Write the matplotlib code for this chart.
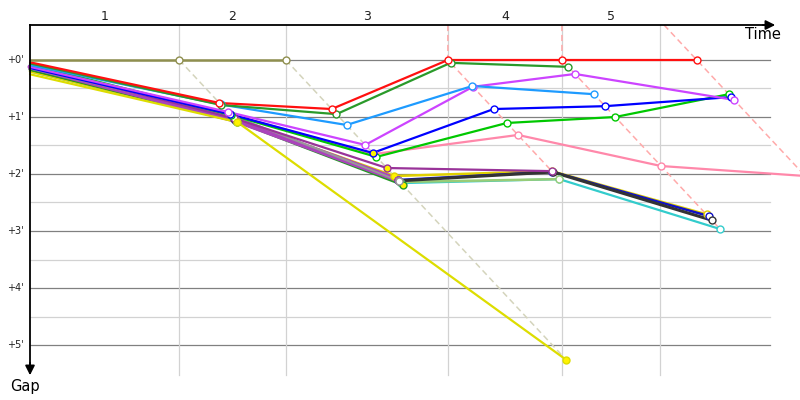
import matplotlib
matplotlib.use("Agg")
import matplotlib.pyplot as plt

# ---------------- data (time in minutes, gap in minutes) ----------------
lap_labels = ["1", "2", "3", "4", "5"]
lap_leader_times = [2.80, 4.80, 7.84, 9.98, 12.51]
lap_grid_times = [2.80, 4.80, 7.84, 9.98, 11.82]
lap_last_gaps = [1.09, 5.26, 2.09, 2.965, 2.035]
gap_ticks = [0, 1, 2, 3, 4, 5]
gap_labels = ["+0'", "+1'", "+2'", "+3'", "+4'", "+5'"]

olive_t = [0, 2.80, 4.80]
olive_g = [0, 0, 0]
red_t = [0, 3.554, 5.66, 7.84, 9.98, 12.51]
red_g = [0.04, 0.754, 0.86, 0, 0, 0]
dkgreen_t = [0, 3.59, 5.75, 7.89, 10.10]
dkgreen_g = [0.06, 0.79, 0.95, 0.05, 0.12]
dodger_t = [0, 3.58, 5.94, 8.30, 10.58]
dodger_g = [0.09, 0.78, 1.14, 0.456, 0.60]
violet_t = [0, 3.71, 6.29, 8.31, 10.225, 13.21]
violet_g = [0.12, 0.91, 1.49, 0.47, 0.245, 0.70]
blue_t = [0, 3.75, 6.43, 8.70, 10.79, 13.16]
blue_g = [0.14, 0.95, 1.63, 0.86, 0.81, 0.65]
lime_t = [0, 3.765, 6.50, 8.945, 10.98, 13.11]
lime_g = [0.08, 0.965, 1.70, 1.105, 1.0, 0.60]
pink_t = [0, 3.75, 6.45, 9.155, 11.84, 14.545]
pink_g = [0.13, 0.95, 1.65, 1.315, 1.86, 2.035]
dkpurple_t = [0, 3.82, 6.695, 9.79]
dkpurple_g = [0.10, 1.02, 1.895, 1.95]
gold_t = [0, 3.86, 6.835, 9.79, 12.70]
gold_g = [0.20, 1.06, 2.035, 1.95, 2.71]
navy_t = [0, 3.835, 6.905, 9.80, 12.74]
navy_g = [0.15, 1.035, 2.105, 1.96, 2.74]
black_t = [0, 3.85, 6.92, 9.805, 12.79]
black_g = [0.16, 1.05, 2.12, 1.965, 2.81]
cyan_t = [0, 3.87, 6.96, 9.93, 12.945]
cyan_g = [0.20, 1.07, 2.16, 2.09, 2.965]
ltgreen_t = [0, 3.87, 6.94, 9.93]
ltgreen_g = [0.18, 1.07, 2.14, 2.09]
gray_t = [0, 3.765, 6.92]
gray_g = [0.15, 0.965, 2.12]
medpurple_t = [0, 3.86, 6.905]
medpurple_g = [0.12, 1.06, 2.105]
green2_t = [0, 3.88, 6.99]
green2_g = [0.17, 1.08, 2.19]
yellow_t = [0, 3.89, 10.06]
yellow_g = [0.25, 1.09, 5.26]

# pit laps (indices of points drawn with yellow filled marker)
yellow_pits = [1, 2]
blue_pits = [2]
dkpurple_pits = [2]
gold_pits = [2]
medpurple_pits = [2]
green2_pits = [2]

# ---------------- drawing table (bottom -> top) ----------------
cars = [
    (cyan_t, cyan_g, "#33CCCC", 1.6, []),
    (ltgreen_t, ltgreen_g, "#99CC77", 1.8, []),
    (gold_t, gold_g, "#E0D000", 1.8, gold_pits),
    (navy_t, navy_g, "#1010C8", 1.8, []),
    (black_t, black_g, "#333333", 2.2, []),
    (green2_t, green2_g, "#229922", 1.8, green2_pits),
    (medpurple_t, medpurple_g, "#AA44BB", 3.6, medpurple_pits),
    (gray_t, gray_g, "#999999", 1.4, []),
    (dkpurple_t, dkpurple_g, "#993399", 1.6, dkpurple_pits),
    (yellow_t, yellow_g, "#DDDD00", 1.6, yellow_pits),
    (pink_t, pink_g, "#FF88AA", 1.6, []),
    (lime_t, lime_g, "#00C800", 1.6, []),
    (blue_t, blue_g, "#0000FF", 1.6, blue_pits),
    (violet_t, violet_g, "#CC44FF", 1.6, []),
    (dodger_t, dodger_g, "#1E9BFF", 1.6, []),
    (dkgreen_t, dkgreen_g, "#2A9A2A", 1.6, []),
    (red_t, red_g, "#FF1010", 1.6, []),
    (olive_t, olive_g, "#8F8F4F", 1.8, []),
]

PX = 53.3   # pixels per minute of time
PY = 57.0   # pixels per minute of gap
fig = plt.figure(figsize=(8, 4), dpi=100)
ax = fig.add_axes([0, 0, 1, 1])
ax.set_xlim(-30 / PX, 770 / PX)
ax.set_ylim(340 / PY, -60 / PY)
ax.axis("off")

t_right = 740 / PX
g_top = -35 / PY
g_bottom = 315 / PY

# grid
for g in gap_ticks:
    ax.plot([0, t_right], [g, g], color="#808080", lw=0.9, zorder=1)
    if g < 5:
        ax.plot([0, t_right], [g + 0.5, g + 0.5], color="#D2D2D2", lw=0.9, zorder=1)
for t in lap_grid_times:
    ax.plot([t, t], [g_top, g_bottom], color="#D2D2D2", lw=0.9, zorder=1)

# lap lines
for i, (T, gend) in enumerate(zip(lap_leader_times, lap_last_gaps)):
    col = "#D4D4BC" if i < 2 else "#FFAAAA"
    ts = [T, T + gend]
    gs = [0, gend]
    if i in (2, 3):
        ts = [T] + ts
        gs = [g_top] + gs
    elif i == 4:
        ts = [T + g_top] + ts
        gs = [g_top] + gs
    ax.plot(ts, gs, color=col, lw=1.1, ls=(0, (4, 2.5)), zorder=2)

# car lines
for k, (ts, gs, col, lw, pits) in enumerate(cars):
    ax.plot(ts, gs, color=col, lw=lw, zorder=3 + k * 0.01, solid_capstyle="round",
            solid_joinstyle="round")
# markers
for k, (ts, gs, col, lw, pits) in enumerate(cars):
    for j in range(1, len(ts)):
        fc = "#FFF200" if j in pits else "white"
        ax.plot(ts[j], gs[j], marker="o", ms=5, mfc=fc, mec=col, mew=1.0,
                zorder=4 + k * 0.01, ls="none")

# axes with arrows
ax.plot([0, 740 / PX], [g_top, g_top], color="black", lw=1.3, zorder=6, clip_on=False)
ax.annotate("", xy=(748 / PX, g_top), xytext=(730 / PX, g_top),
            arrowprops=dict(arrowstyle="-|>", color="black", lw=1.3, mutation_scale=14),
            zorder=6)
ax.plot([0, 0], [g_top, 305 / PY], color="black", lw=1.3, zorder=6)
ax.annotate("", xy=(0, 318 / PY), xytext=(0, 300 / PY),
            arrowprops=dict(arrowstyle="-|>", color="black", lw=1.3, mutation_scale=14),
            zorder=6)

# texts
bounds = [0] + lap_grid_times
for i, lab in enumerate(lap_labels):
    ax.text((bounds[i] + bounds[i + 1]) / 2, -43 / PY, lab, ha="center", va="center",
            fontsize=9, color="#202020")
for g, lab in zip(gap_ticks, gap_labels):
    ax.text(-15 / PX, g, lab, ha="center", va="center", fontsize=7, color="#202020")
ax.text(715 / PX, -25 / PY, "Time", ha="left", va="center", fontsize=10.5)
ax.text(-5 / PX, 327 / PY, "Gap", ha="center", va="center", fontsize=10.5)

fig.savefig("out.png", dpi=100)
